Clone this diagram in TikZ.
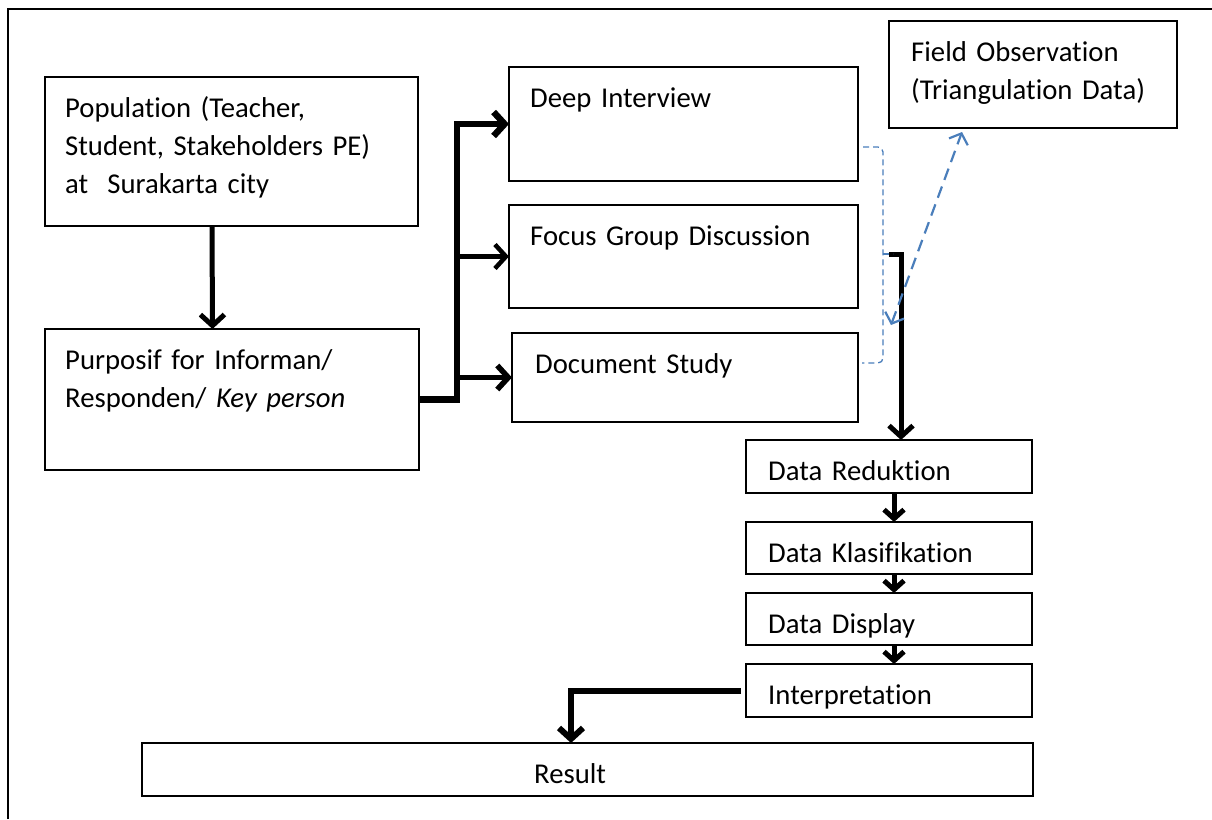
\documentclass[tikz,border=0pt]{standalone}
\usepackage{fontspec}
\setmainfont{Carlito}[Ligatures=NoCommon]
\usetikzlibrary{arrows.meta}
\definecolor{obsblue}{HTML}{4A7EBB}

\begin{document}
\begin{tikzpicture}[x=1pt,y=-1pt,
	every node/.style={font=\fontsize{28.7}{38}\selectfont},
	box/.style={draw, line width=1.5pt, inner sep=0pt, outer sep=0pt, anchor=north west},
	lab/.style={anchor=base west, inner sep=0pt, align=left, text width=380pt},
	conn/.style={line width=5pt, -{Straight Barb[length=11pt,width=24pt]}},
	sconn/.style={line width=5pt, -{Straight Barb[length=9pt,width=20pt]}},
	obsarrow/.style={obsblue, line width=2.2pt, dash pattern=on 12pt off 7pt,
		{Straight Barb[length=9pt,width=20pt]}-{Straight Barb[length=9pt,width=20pt]}},
	obsthin/.style={obsblue, line width=1.3pt, dash pattern=on 6pt off 4pt, rounded corners=5pt}]

\useasboundingbox (0,0) rectangle (1212,819);
\draw[line width=1.5pt] (8,819) -- (8,9) -- (1212,9);

% \flowbox{name}{left}{top}{right}{bottom}
\newcommand*{\flowbox}[5]{
	\node[box, minimum width={(#4-#2)*1pt}, minimum height={(#5-#3)*1pt}] (#1) at (#2,#3) {};
}
% \boxlabel{name}{dx}{text}
\newcommand*{\boxlabel}[3]{
	\node[lab] (#1-text) at ([shift={(#2pt,-40.5pt)}]#1.north west) {#3};
}

	\flowbox{pop}{45}{77}{418}{226}
	\flowbox{purp}{45}{329}{419}{470}
	\flowbox{deep}{509}{67}{858}{181}
	\flowbox{fgd}{509}{205}{858}{308}
	\flowbox{doc}{512}{333}{858}{422}
	\flowbox{field}{889}{21}{1177}{128}
	\flowbox{red}{746}{440}{1032}{493}
	\flowbox{kla}{746}{522}{1032}{574}
	\flowbox{disp}{746}{593}{1032}{645}
	\flowbox{interp}{746}{664}{1032}{717}
	\flowbox{result}{142}{743}{1033}{796}

	\boxlabel{pop}{20}{Population (Teacher,\\Student, Stakeholders PE)\\at~ Surakarta city}
	\boxlabel{purp}{20}{Purposif for Informan/\\Responden/ \textit{Key person}}
	\boxlabel{deep}{21}{Deep Interview}
	\boxlabel{fgd}{21}{Focus Group Discussion}
	\boxlabel{doc}{23}{Document Study}
	\boxlabel{field}{22}{Field Observation\\(Triangulation Data)}
	\boxlabel{red}{22}{Data Reduktion}
	\boxlabel{kla}{22}{Data Klasifikation}
	\boxlabel{disp}{22}{Data Display}
	\boxlabel{interp}{22}{Interpretation}
	\boxlabel{result}{392}{Result}

	\draw[conn] ([xshift=-19.5pt]pop.south) -- ([xshift=-19.5pt]purp.north);

	\coordinate (trunk) at (457,0);
	\draw[conn, line width=6.5pt] (purp.east) -| (trunk |- deep.west) -- (deep.west);
	\draw[conn, line width=4.5pt] (trunk |- fgd.west) -- (fgd.west);
	\draw[conn, line width=5.5pt] (trunk |- doc.west) -- (doc.west);

	\coordinate (fgdout) at (889,254);
	\draw[conn] (fgdout) -| ([xshift=12pt]red.north);

	\foreach \a/\b in {red/kla, kla/disp, disp/interp}
		\draw[sconn] ([xshift=5pt]\a.south) -- ([xshift=5pt]\b.north);

	\draw[conn, line width=6pt] ([xshift=-5pt]interp.west) -| ([xshift=-16.5pt]result.north);

	% triangulation
	\draw[obsthin] ([shift={(5pt,-23pt)}]deep.east) -- ++(20,0) coordinate (bend)
		|- ([shift={(4pt,14.5pt)}]doc.east);
	\draw[obsthin] (bend |- fgdout) -- ++(10,0);
	\coordinate (obsend) at (891,325);
	\draw[obsarrow] (obsend) -- ([shift={(-71pt,-4pt)}]field.south);

\end{tikzpicture}
\end{document}
